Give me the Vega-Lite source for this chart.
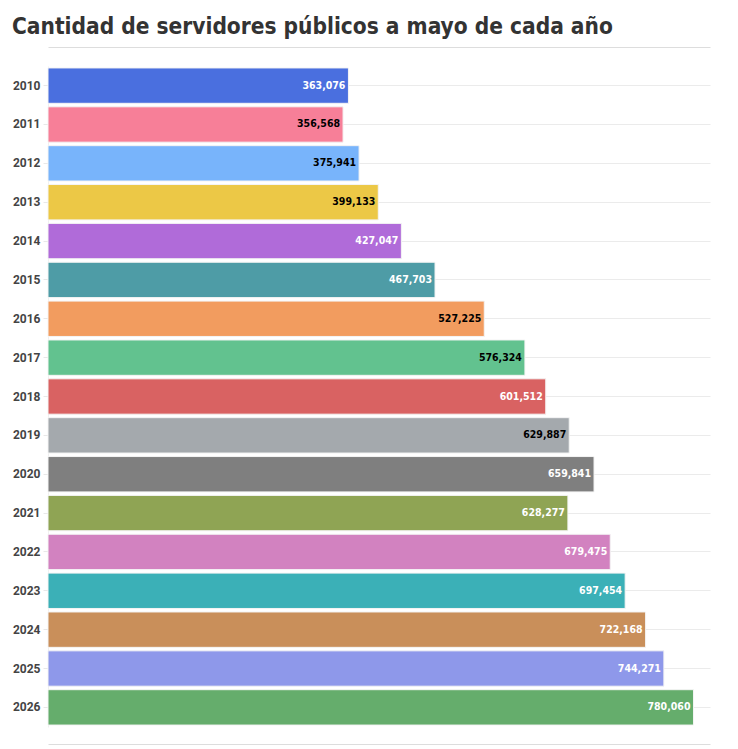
{
  "$schema": "https://vega.github.io/schema/vega-lite/v6.json",
  "autosize": {"type": "none"},
  "padding": {"left": 48, "top": 66, "right": 28, "bottom": 22},
  "width": 662,
  "height": 661,
  "background": "white",
  "title": {
    "text": "Cantidad de servidores públicos a mayo de cada año",
    "anchor": "start",
    "frame": "group",
    "dx": -36,
    "offset": 9,
    "font": "DejaVu Sans Condensed, Roboto, sans-serif",
    "fontSize": 22.5,
    "fontWeight": "bold",
    "color": "#333333"
  },
  "config": {"view": {"stroke": null}},
  "data": {
    "values": [
      {"year": "2010", "value": 363076, "color": "#4a6fdf", "label": "white"},
      {"year": "2011", "value": 356568, "color": "#f77f98", "label": "black"},
      {"year": "2012", "value": 375941, "color": "#78b4fb", "label": "black"},
      {"year": "2013", "value": 399133, "color": "#ecc846", "label": "black"},
      {"year": "2014", "value": 427047, "color": "#b06bd9", "label": "white"},
      {"year": "2015", "value": 467703, "color": "#4e9ca6", "label": "white"},
      {"year": "2016", "value": 527225, "color": "#f29c5f", "label": "black"},
      {"year": "2017", "value": 576324, "color": "#62c28f", "label": "black"},
      {"year": "2018", "value": 601512, "color": "#d96262", "label": "white"},
      {"year": "2019", "value": 629887, "color": "#a4a9ad", "label": "black"},
      {"year": "2020", "value": 659841, "color": "#7f7f7f", "label": "white"},
      {"year": "2021", "value": 628277, "color": "#8fa454", "label": "white"},
      {"year": "2022", "value": 679475, "color": "#d282c0", "label": "white"},
      {"year": "2023", "value": 697454, "color": "#3bb0b7", "label": "white"},
      {"year": "2024", "value": 722168, "color": "#c98f5a", "label": "white"},
      {"year": "2025", "value": 744271, "color": "#8e98ea", "label": "white"},
      {"year": "2026", "value": 780060, "color": "#65ad6c", "label": "white"}
    ]
  },
  "encoding": {
    "y": {
      "field": "year",
      "type": "ordinal",
      "sort": null,
      "scale": {"paddingInner": 0.09, "paddingOuter": 0.05},
      "axis": {
        "title": null,
        "bandPosition": 0.5,
        "grid": true,
        "gridColor": "#ebebeb",
        "gridWidth": 1,
        "domain": true,
        "domainColor": "#f0f0f0",
        "ticks": true,
        "tickColor": "#e8e8e8",
        "tickSize": 5,
        "labelPadding": 3,
        "labelFont": "Roboto",
        "labelFontWeight": "bold",
        "labelFontSize": 12,
        "labelColor": "#444444"
      }
    },
    "x": {
      "field": "value",
      "type": "quantitative",
      "scale": {"domain": [0, 800000], "nice": false}
    }
  },
  "layer": [
    {
      "mark": {"type": "bar", "stroke": "#f4f4f4", "strokeWidth": 1},
      "encoding": {
        "x": {
          "field": "value",
          "type": "quantitative",
          "scale": {"domain": [0, 800000], "nice": false},
          "axis": {
            "orient": "bottom",
            "title": null,
            "labels": false,
            "ticks": false,
            "grid": false,
            "domain": true,
            "domainColor": "#dddddd",
            "offset": 17
          }
        },
        "color": {"field": "color", "type": "nominal", "scale": null}
      }
    },
    {
      "mark": {
        "type": "text",
        "align": "right",
        "baseline": "middle",
        "dx": -3,
        "font": "DejaVu Sans Condensed, Roboto, sans-serif",
        "fontWeight": "bold",
        "fontSize": 10.5
      },
      "encoding": {
        "x": {
          "field": "value",
          "type": "quantitative",
          "scale": {"domain": [0, 800000], "nice": false},
          "axis": {
            "orient": "top",
            "title": null,
            "labels": false,
            "ticks": false,
            "grid": false,
            "domain": true,
            "domainColor": "#dddddd",
            "offset": 19
          }
        },
        "text": {"field": "value", "type": "quantitative", "format": ",d"},
        "color": {"field": "label", "type": "nominal", "scale": null}
      }
    }
  ],
  "resolve": {"axis": {"x": "independent"}}
}
